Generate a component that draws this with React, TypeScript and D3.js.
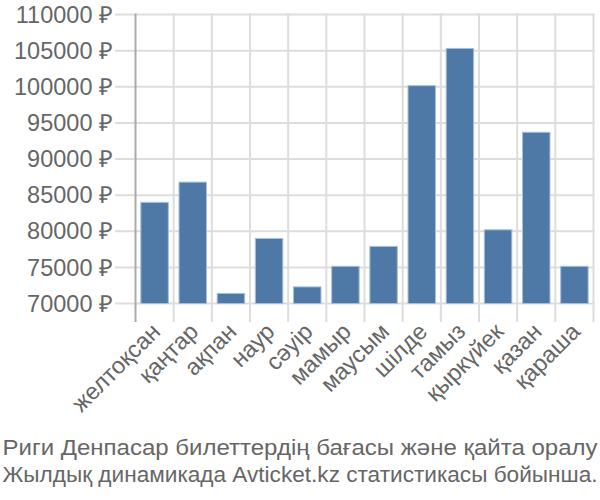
import React from "react";
import * as d3 from "d3";

const months = ["желтоқсан", "қаңтар", "ақпан", "наур", "сәуір", "мамыр", "маусым", "шілде", "тамыз", "қыркүйек", "қазан", "қараша"];
const prices = [84000, 86800, 71400, 79000, 72300, 75150, 77900, 100150, 105300, 80200, 93700, 75150];
const yTicks = [70000, 75000, 80000, 85000, 90000, 95000, 100000, 105000, 110000];
const titleLines = ["Риги Денпасар билеттердің бағасы және қайта оралу", "Жылдық динамикада Avticket.kz статистикасы бойынша."];

export default function App() {
  const W = 600, H = 500;
  const left = 135.5, right = 593.5, top = 14.5, bottom = 303.5;
  const x = d3.scaleBand<string>().domain(months).range([left, right]).paddingInner(0.28).paddingOuter(0.14);
  const y = d3.scaleLinear().domain([70000, 110000]).range([bottom, top]);
  const step = x.step();
  const font = "'Liberation Sans', Arial, sans-serif";
  const textColor = "#666";
  return (
    <svg width={W} height={H} style={{ position: "absolute", left: 0, top: 0 }} fontFamily={font}>
      <rect width={W} height={H} fill="#fff" />
      {yTicks.map((t) => (
        <g key={t}>
          <line x1={115} x2={right + 1} y1={y(t)} y2={y(t)} stroke="#dddddd" strokeWidth={2} />
          <text x={113} y={y(t)} dy="0.35em" textAnchor="end" fontSize={23.5} fill={textColor}>
            {d3.format("d")(t) + " ₽"}
          </text>
        </g>
      ))}
      {d3.range(months.length + 1).map((i) => (
        <line key={i} x1={left + i * step} x2={left + i * step} y1={top - 1} y2={322} stroke={i === 0 ? "#aaaaaa" : "#dddddd"} strokeWidth={2} />
      ))}
      {months.map((m, i) => (
        <rect key={m} x={x(m)!} y={y(prices[i])} width={x.bandwidth()} height={bottom - y(prices[i])} fill="#4e79a7" stroke="#a9bfd8" strokeWidth={1} />
      ))}
      {months.map((m) => (
        <text key={m} transform={`translate(${x(m)! + x.bandwidth() / 2 + 7},${333}) rotate(-45)`} textAnchor="end" fontSize={23.5} fill={textColor}>
          {m}
        </text>
      ))}
      {titleLines.map((l, i) => (
        <text key={i} x={2.5} y={454.5 + i * 27.5} fontSize={22} fill={textColor} textLength={595} lengthAdjust="spacingAndGlyphs">
          {l}
        </text>
      ))}
    </svg>
  );
}
